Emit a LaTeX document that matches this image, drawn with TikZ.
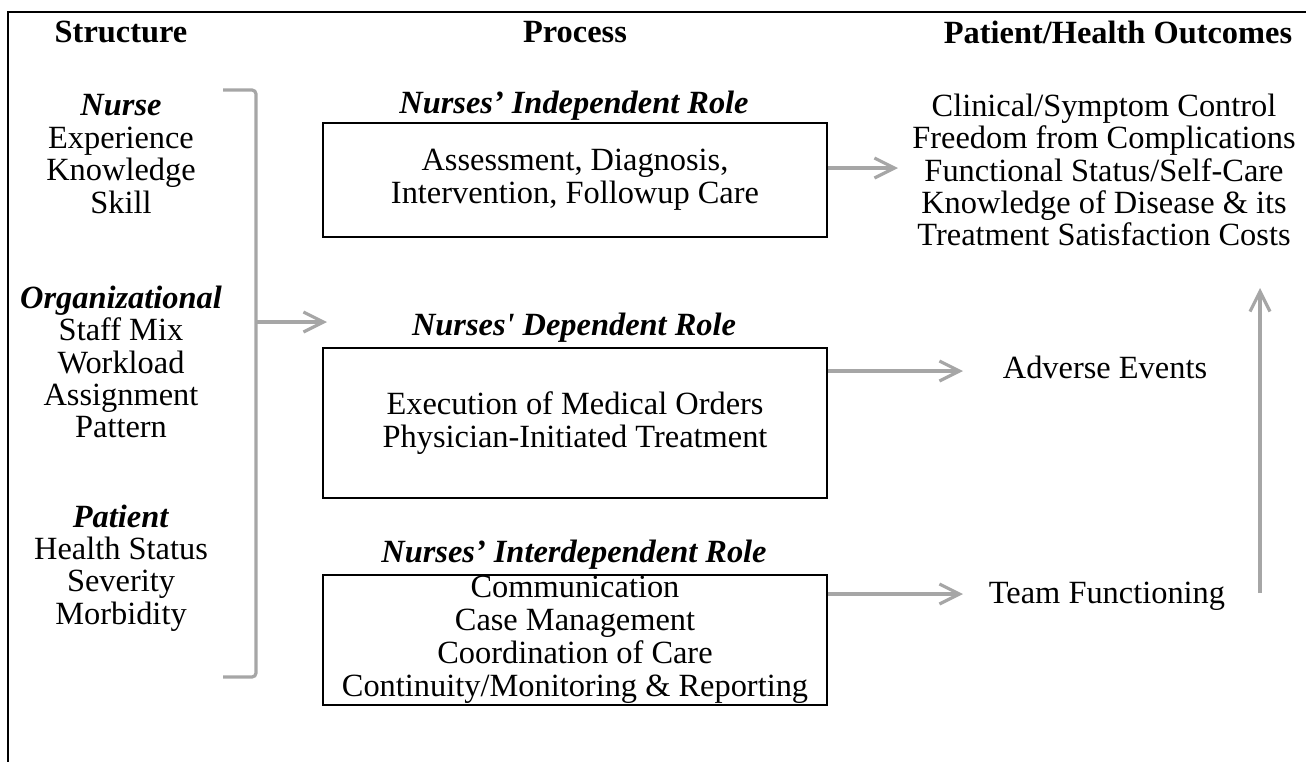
\documentclass[tikz,border=0pt]{standalone}
\usepackage{fontspec}
\setmainfont{Liberation Serif}
\usetikzlibrary{arrows.meta}

\definecolor{flowgray}{RGB}{166,166,166}

\tikzset{every picture/.style={line width=0.75pt}}
\tikzset{
  txt/.style={inner sep=0.75pt, align=center, font=\fontsize{16.2}{16.2}\selectfont},
  head/.style={txt, font=\fontsize{16.2}{16.2}\selectfont\bfseries},
  roletitle/.style={txt, font=\fontsize{16.2}{16.2}\selectfont\bfseries\itshape},
  rolebox/.style={txt, font=\fontsize{16.2}{16.5}\selectfont, draw, line width=1.1pt, minimum width=252pt},
  flow/.style={draw=flowgray, line width=1.6pt, -{Straight Barb[length=10pt,width=10pt]}},
}

\begin{document}
\begin{tikzpicture}[x=0.5pt,y=0.5pt,yscale=-1]
\useasboundingbox (0,0) rectangle (1306,762);

%Frame: top and left only
\draw [line width=1.3pt] (1306,12) -- (8,12) -- (8,762) ;

% Column heads
\node [head] (structure) at (121,32) {Structure};
\node [head] (process) at (575,32) {Process};
\node [head] (outcomes) at (1118,32) {Patient/Health Outcomes};

% Structure column
\node [txt] (nurse) at (121,154) {\textbf{\textit{Nurse}}\\Experience\\Knowledge\\Skill};
\node [txt] (organizational) at (121,362) {\textbf{\textit{Organizational}}\\Staff Mix\\Workload\\Assignment\\Pattern};
\node [txt] (patient) at (121,568) {\textbf{\textit{Patient}}\\Health Status\\Severity\\Morbidity};

% Process column
\node [roletitle] (indeptitle) at (574,106) {Nurses’ Independent Role};
\node [rolebox, minimum height=57pt] (indep) at (575,180) {Assessment, Diagnosis,\\Intervention, Followup Care};
\node [roletitle] (deptitle) at (574,328) {Nurses\textquotesingle{} Dependent Role};
\node [rolebox, minimum height=75pt] (dep) at (575,423) {Execution of Medical Orders\\Physician-Initiated Treatment};
\node [roletitle] (intertitle) at (574,555) {Nurses’ Interdependent Role};
\node [rolebox, minimum height=65pt] (inter) at (575,640) {Communication\\Case Management\\Coordination of Care\\Continuity/Monitoring \& Reporting};

% Outcomes column
\node [txt] (clinical) at (1104,170) {Clinical/Symptom Control\\Freedom from Complications\\Functional Status/Self-Care\\Knowledge of Disease \& its\\Treatment Satisfaction Costs};
\node [txt] (adverse) at (1105,367) {Adverse Events};
\node [txt] (team) at (1107,596) {Team Functioning};

%Bracket round the structure column
\coordinate (brtop) at (223,90);
\coordinate (brbot) at (223,677);
\coordinate (brmid) at (256,322);
\coordinate (procin) at (327,322);
\draw [draw=flowgray, line width=1.6pt, rounded corners=2pt] (brtop) -- (256,90) -- (256,677) -- (brbot) ;
\draw [flow] (brmid) -- (procin) ;

%Straight Lines: roles to outcomes
\coordinate (indepout) at (898,168);
\coordinate (depout) at (963,371);
\coordinate (interout) at (963,594);
\draw [flow] (indep.east |- indepout) -- (indepout) ;
\draw [flow] (dep.east |- depout) -- (depout) ;
\draw [flow] (inter.east |- interout) -- (interout) ;

%Straight Lines: team functioning feeds back up
\coordinate (upfrom) at (1260,593);
\coordinate (upto) at (1260,288);
\draw [flow] (upfrom) -- (upto) ;

\end{tikzpicture}
\end{document}
